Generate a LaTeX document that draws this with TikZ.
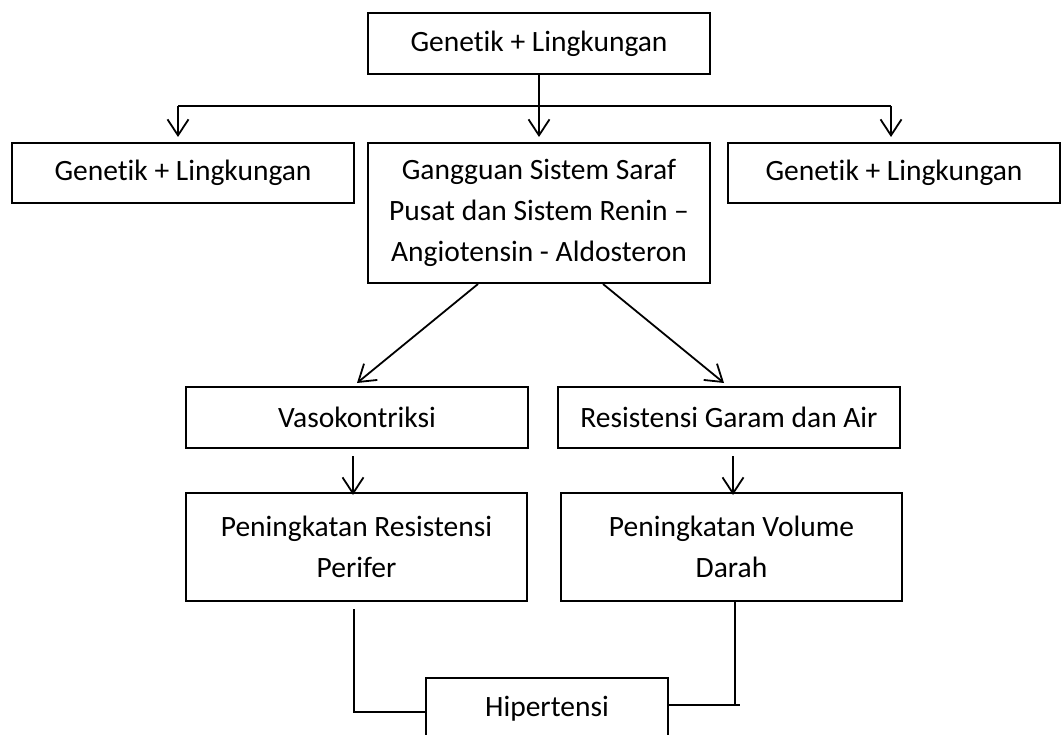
\documentclass[tikz,border=0pt]{standalone}
\usepackage{fontspec}
\setmainfont{Carlito}[Ligatures=NoCommon]
\usetikzlibrary{arrows.meta,calc}
\begin{document}
\begin{tikzpicture}[x=1pt,y=-1pt,
  box/.style={draw,line width=2.6pt,minimum width=342pt,inner sep=0pt,align=center,
    font=\fontsize{29.5}{41}\selectfont},
  conn/.style={line width=1.8pt},
  arr/.style={conn,-{Straight Barb[length=16pt,width=21pt,line width=1.8pt]}}]
\clip (0,0) rectangle (1063,735);
\useasboundingbox (0,0) rectangle (1063,735);
\node[box,minimum height=61pt] (top) at (539,43.5) {Genetik + Lingkungan};
\node[box,minimum height=60pt] (left) at (183,173) {Genetik + Lingkungan};
\node[box,minimum height=140pt] (center) at (539,213) {Gangguan Sistem Saraf\\Pusat dan Sistem Renin --\\Angiotensin - Aldosteron};
\node[box,minimum width=332pt,minimum height=60pt] (right) at (894,173) {Genetik + Lingkungan};
\node[box,minimum height=61pt] (vaso) at (357,417.5) {Vasokontriksi};
\node[box,minimum height=61pt] (resist) at (729,417.5) {Resistensi Garam dan Air};
\node[box,minimum width=341pt,minimum height=108pt] (penR) at (356.5,547) {Peningkatan Resistensi\\Perifer};
\node[box,minimum width=341pt,minimum height=108pt] (penV) at (731.5,547) {Peningkatan Volume\\Darah};
\node[box,minimum width=242pt,minimum height=62pt] (hip) at (547,709) {Hipertensi};
% top fan-out
\coordinate (hl) at (178,106);
\coordinate (hr) at (891,106);
\coordinate (tl) at (178,137);
\coordinate (tr) at (891,137);
\coordinate (tc) at (539,137);
\draw[conn] (hl) -- (hr);
\draw[arr] (top.south) -- (tc);
\draw[arr] (hl) -- (tl);
\draw[arr] (hr) -- (tr);
% diagonals
\coordinate (dl0) at (478,284);
\coordinate (dl1) at (357,383);
\coordinate (dr0) at (603,284);
\coordinate (dr1) at (724,383);
\draw[arr] (dl0) -- (dl1);
\draw[arr] (dr0) -- (dr1);
% vertical arrows
\coordinate (a0) at (353,456);
\coordinate (a1) at (353,495);
\coordinate (b0) at (733,456);
\coordinate (b1) at (733,495);
\draw[arr] (a0) -- (a1);
\draw[arr] (b0) -- (b1);
% bottom connectors
\coordinate (l0) at (354,609);
\coordinate (l1) at (354,712);
\coordinate (l2) at (426,712);
\draw[conn] (l0) -- (l1) -- (l2);
\coordinate (r0) at (735,601);
\coordinate (r1) at (735,705);
\coordinate (r2) at (668,705);
\coordinate (r3) at (740,705);
\draw[conn] (r0) -- (r1);
\draw[conn] (r2) -- (r3);
\end{tikzpicture}
\end{document}
